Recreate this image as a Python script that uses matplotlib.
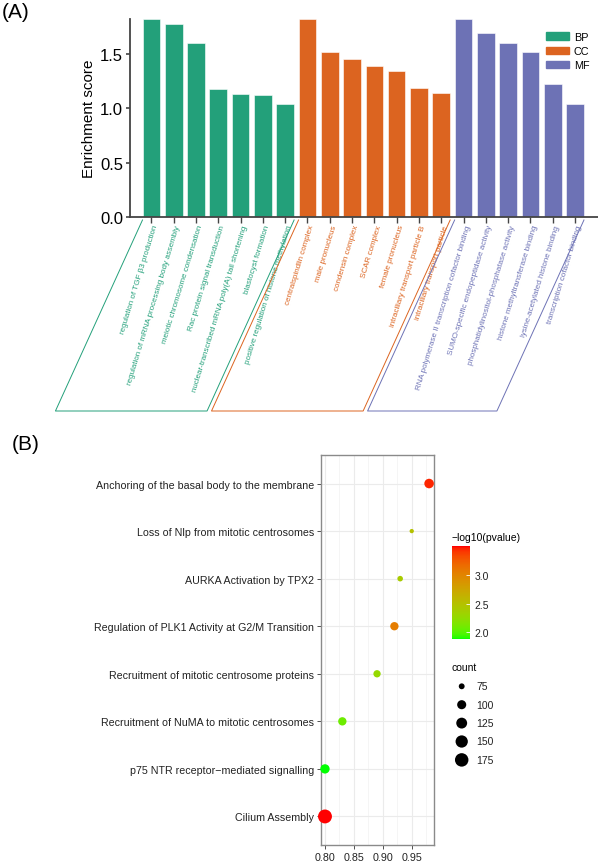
import numpy as np
import matplotlib
matplotlib.use("Agg")
import matplotlib.pyplot as plt
from matplotlib.lines import Line2D
from matplotlib.colors import ListedColormap, Normalize
from matplotlib.cm import ScalarMappable

plt.rcParams['font.family'] = ['Liberation Sans', 'DejaVu Sans']

# ---- panel A data: GO enrichment ----
bp_terms = ["regulation of TGF β3 production",
            "regulation of mRNA processing body assembly",
            "meiotic chromosome condensation",
            "Rac protein signal transduction",
            "nuclear-transcribed mRNA poly(A) tail shortening",
            "blastocyst formation",
            "positive regulation of histone methylation"]
bp_scores = [1.82, 1.77, 1.60, 1.175, 1.13, 1.12, 1.04]
cc_terms = ["centralspindlin complex", "male pronucleus", "condensin complex",
            "SCAR complex", "female pronucleus",
            "intraciliary transport particle B", "intraciliary transport particle"]
cc_scores = [1.82, 1.52, 1.45, 1.39, 1.34, 1.19, 1.14]
mf_terms = ["RNA polymerase II transcription cofactor binding",
            "SUMO-specific endopeptidase activity",
            "phosphatidylinositol-phosphatase activity",
            "histone methyltransferase binding",
            "lysine-acetylated histone binding",
            "transcription cofactor binding"]
mf_scores = [1.82, 1.69, 1.60, 1.52, 1.22, 1.04]
groups = ["BP", "CC", "MF"]
group_colors = ["#23A07A", "#DC6420", "#6D72B5"]

# ---- panel B data: pathway dot plot ----
pathways = ["Anchoring of the basal body to the membrane",
            "Loss of Nlp from mitotic centrosomes",
            "AURKA Activation by TPX2",
            "Regulation of PLK1 Activity at G2/M Transition",
            "Recruitment of mitotic centrosome proteins",
            "Recruitment of NuMA to mitotic centrosomes",
            "p75 NTR receptor−mediated signalling",
            "Cilium Assembly"]
ratio = [0.98, 0.95, 0.93, 0.92, 0.89, 0.83, 0.80, 0.80]
neglogp = [3.45, 2.50, 2.40, 3.05, 2.27, 2.07, 1.88, 3.50]
counts = [106, 72, 74, 92, 83, 92, 103, 185]
count_breaks = [75, 100, 125, 150, 175]

W, H = 598, 862
fig = plt.figure(figsize=(W / 100, H / 100), dpi=100)


def frac(x0, y0, x1, y1):
    # pixel box (top-left origin) -> figure fraction rect
    return [x0 / W, 1 - y1 / H, (x1 - x0) / W, (y1 - y0) / H]


# ================= panel A =================
ax = fig.add_axes(frac(130, 20, 598, 218))
all_terms = bp_terms + cc_terms + mf_terms
all_scores = bp_scores + cc_scores + mf_scores
sizes = [len(bp_terms), len(cc_terms), len(mf_terms)]
bar_colors = []
for c, n in zip(group_colors, sizes):
    bar_colors += [c] * n
xs = np.arange(len(all_terms))
ax.bar(xs, all_scores, width=0.79, color=bar_colors, edgecolor='white', linewidth=0.4)
ax.set_xlim(-0.96, len(all_terms) + 0.03)
ax.set_ylim(0, max(all_scores))
ax.set_yticks([0, 0.5, 1.0, 1.5])
ax.set_yticklabels(["0.0", "0.5", "1.0", "1.5"])
ax.set_xticks(xs)
ax.set_xticklabels([])
for s in ['top', 'right']:
    ax.spines[s].set_visible(False)
for s in ['left', 'bottom']:
    ax.spines[s].set_color('#444444')
    ax.spines[s].set_linewidth(1.3)
ax.tick_params(axis='y', length=3, width=1.2, color='#444444', labelsize=12, pad=2)
ax.tick_params(axis='x', length=4, width=1.0, color='#444444')
ax.set_ylabel("Enrichment score", fontsize=11, labelpad=3)

for i, (t, c) in enumerate(zip(all_terms, bar_colors)):
    ax.annotate(t, xy=(i, 0), xytext=(1, -5), textcoords='offset points',
                rotation=73, rotation_mode='anchor', ha='right', va='top',
                fontsize=5.8, color=c, annotation_clip=False)

# slanted group brackets
inv = fig.transFigure.inverted()
start = 0
for c, n in zip(group_colors, sizes):
    x0 = start - 0.5 + 0.1
    x1 = start + n - 0.5 - 0.1
    (px0, py), (px1, _) = ax.transData.transform([(x0, 0), (x1, 0)])
    top = py - 3
    drop = 191
    dx = drop / np.tan(np.radians(65.5))
    pts = np.array([(px0, top), (px0 - dx, top - drop), (px1 - dx, top - drop), (px1, top)])
    pts = inv.transform(pts)
    fig.add_artist(Line2D(pts[:, 0], pts[:, 1], transform=fig.transFigure,
                          color=c, lw=0.7))
    start += n

handles = [plt.Rectangle((0, 0), 1, 1, color=c) for c in group_colors]
ax.legend(handles, groups, loc='upper left', bbox_to_anchor=(536 / W, 1 - 23 / H),
          bbox_transform=fig.transFigure, frameon=False, fontsize=7.8,
          handlelength=2.1, handleheight=0.7, labelspacing=0.4, handletextpad=0.5)

fig.text(2 / W, 1 - 12 / H, "(A)", fontsize=15, va='center', ha='left')

# ================= panel B =================
# ggplot-like green->red gradient interpolated in CIELAB
white = np.array([0.95047, 1.0, 1.08883])
M = np.array([[0.4124, 0.3576, 0.1805], [0.2126, 0.7152, 0.0722], [0.0193, 0.1192, 0.9505]])


def to_lab(rgb):
    c = np.asarray(rgb, float)
    lin = np.where(c <= 0.04045, c / 12.92, ((c + 0.055) / 1.055) ** 2.4)
    t = M @ lin / white
    f = np.where(t > 0.008856, np.cbrt(t), 7.787 * t + 16 / 116)
    return np.array([116 * f[1] - 16, 500 * (f[0] - f[1]), 200 * (f[1] - f[2])])


def from_lab(lab):
    L, a, b = lab
    fy = (L + 16) / 116
    f = np.array([fy + a / 500, fy, fy - b / 200])
    t = np.where(f ** 3 > 0.008856, f ** 3, (f - 16 / 116) / 7.787) * white
    lin = np.linalg.solve(M, t)
    c = np.where(lin <= 0.0031308, 12.92 * lin, 1.055 * np.clip(lin, 0, None) ** (1 / 2.4) - 0.055)
    return np.clip(c, 0, 1)


lo, hi = to_lab([0, 1, 0]), to_lab([1, 0, 0])
cmap = ListedColormap([from_lab(lo + (hi - lo) * k) for k in np.linspace(0, 1, 256)])
norm = Normalize(min(neglogp), max(neglogp))

cmin, cmax = 72, 185


def diam_px(c):
    return 4.3 + 9.6 * np.sqrt((np.asarray(c, float) - cmin) / (cmax - cmin))


bx = fig.add_axes(frac(320.7, 456, 434.3, 846))
ypos = np.arange(len(pathways), 0, -1)
bx.scatter(ratio, ypos, s=(diam_px(counts) * 0.72) ** 2, c=neglogp, cmap=cmap, norm=norm,
           linewidths=0, zorder=3, clip_on=False)
bx.set_xlim(0.7926, 0.989)
bx.set_ylim(0.4, len(pathways) + 0.6)
bx.set_xticks([0.80, 0.85, 0.90, 0.95])
bx.set_xticks([0.825, 0.875, 0.925, 0.975], minor=True)
bx.set_yticks(ypos)
bx.set_yticklabels(pathways)
bx.grid(True, which='major', color='#EBEBEB', lw=0.8)
bx.grid(True, which='minor', axis='x', color='#F2F2F2', lw=0.5)
bx.set_axisbelow(True)
for s in bx.spines.values():
    s.set_color('#8A8A8A')
    s.set_linewidth(1.0)
bx.tick_params(which='major', length=3, width=0.6, color='#333333', labelsize=7.7,
               labelcolor='#222222', pad=2)
bx.tick_params(which='minor', length=0)

fig.text(12 / W, 1 - 445 / H, "(B)", fontsize=15, va='center', ha='left')

# colour bar
cax = fig.add_axes(frac(451.7, 547.3, 470, 640))
cb = fig.colorbar(ScalarMappable(norm=norm, cmap=cmap), cax=cax)
cb.outline.set_visible(False)
cb.set_ticks([2.0, 2.5, 3.0])
cb.ax.tick_params(length=3, width=0.6, color='white', direction='in', labelsize=7.5,
                  labelcolor='#222222', pad=3)
fig.text(451.7 / W, 1 - 538 / H, "−log10(pvalue)", fontsize=7.5, va='center', ha='left')

# size legend
fig.text(451.7 / W, 1 - 668 / H, "count", fontsize=7.5, va='center', ha='left')
lax = fig.add_axes([0, 0, 1, 1], zorder=-1)
lax.set_xlim(0, W)
lax.set_ylim(H, 0)
lax.axis('off')
leg_y = 687.3 + 18.4 * np.arange(len(count_breaks))
lax.scatter([461.7] * len(count_breaks), leg_y, s=(diam_px(count_breaks) * 0.72) ** 2,
            color='black', linewidths=0)
for yy, b in zip(leg_y, count_breaks):
    lax.text(476.7, yy, str(b), fontsize=7.5, va='center', ha='left', color='#222222')

fig.savefig("out.png", dpi=100)
